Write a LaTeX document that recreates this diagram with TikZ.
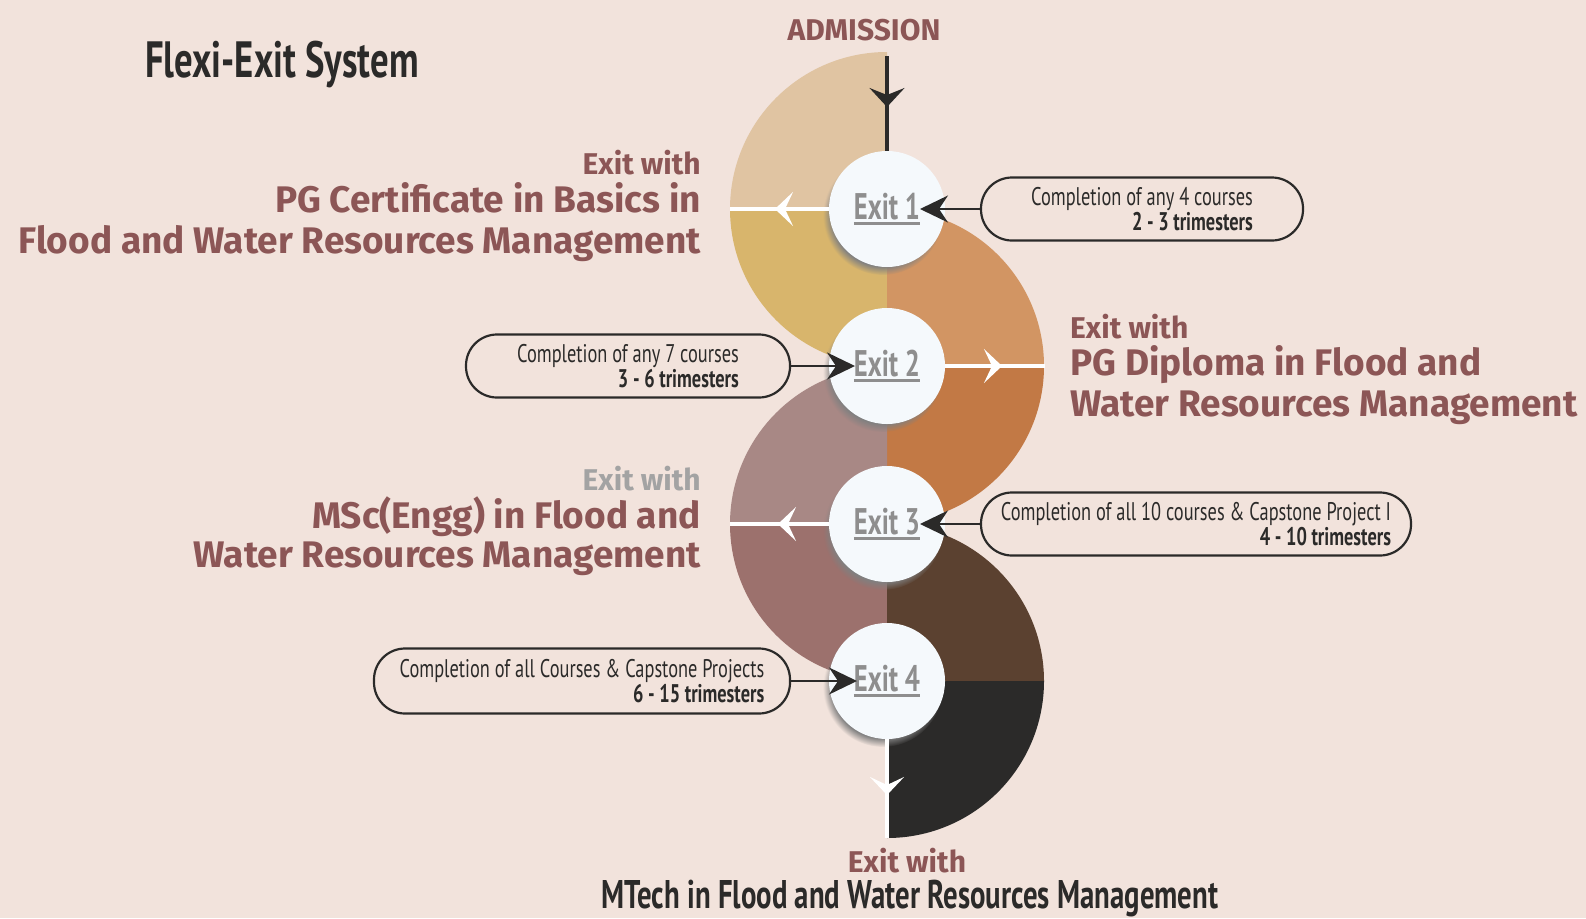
\documentclass[tikz,border=0pt]{standalone}
\usepackage{fontspec}
\setmainfont{Fira Sans}
\newfontfamily\condfont{PT Sans}[FakeStretch=0.72]
\usetikzlibrary{calc,arrows.meta,shadows}

\definecolor{bgpink}{HTML}{F2E3DC}
\definecolor{brownink}{HTML}{8C5656}
\definecolor{darkink}{HTML}{2B2A29}
\definecolor{exitgray}{HTML}{8E8E8E}
\definecolor{palegray}{HTML}{A3A3A3}
\definecolor{circfill}{HTML}{F5F9FC}
\definecolor{sandA}{HTML}{E0C4A2}
\definecolor{sandB}{HTML}{D8B56C}
\definecolor{copperA}{HTML}{D29563}
\definecolor{copperB}{HTML}{C27945}
\definecolor{mauveA}{HTML}{A88885}
\definecolor{mauveB}{HTML}{9C716D}
\definecolor{cocoaA}{HTML}{5B4130}
\definecolor{cocoaB}{HTML}{2B2A29}

\def\exitnode{\node[circle,fill=circfill,minimum size=116pt,inner sep=0pt,text=exitgray,
  font=\condfont\bfseries\fontsize{37}{38}\selectfont,
  circular drop shadow={shadow xshift=-4pt,shadow yshift=-6pt,shadow scale=1.03}]}
\def\callbox{\node[draw=darkink,line width=2.2pt,rounded corners=31pt,minimum height=63pt,
  align=right,inner sep=0pt,text=darkink,font=\condfont\fontsize{25.5}{25.5}\selectfont]}
\newcommand\exitlabel[1]{\setbox0\hbox{#1}\rlap{\rule[-5pt]{\wd0}{2.5pt}}\box0}

\tikzset{
  headbig/.style={font=\bfseries\fontsize{37}{40}\selectfont,text=brownink,inner sep=0pt},
  headsmall/.style={font=\bfseries\fontsize{30}{32}\selectfont,text=brownink,inner sep=0pt},
  whitearrow/.style={draw=white,line width=4pt,-{Stealth[length=18pt,width=34pt,inset=8pt]}},
  whiteline/.style={draw=white,line width=4pt},
  callarrow/.style={draw=darkink,line width=2pt,-{Stealth[length=28pt,width=27pt,inset=9pt]}}
}

\begin{document}
\begin{tikzpicture}[x=1pt,y=-1pt]
\fill[bgpink] (0,0) rectangle (1586,918);
\useasboundingbox (0,0) rectangle (1586,918);

\coordinate (o) at (887,209); % centres below are stacked from (o)
\coordinate (o2) at ($ (o) + (0,157) $);
\coordinate (o3) at ($ (o) + (0,315) $);
\coordinate (o4) at ($ (o) + (0,472) $);

% Half discs
\fill[sandA] (o) -- ++(-157,0) arc[start angle=180,end angle=270,radius=157] -- cycle;
\fill[sandB] (o) -- ++(0,157) arc[start angle=90,end angle=180,radius=157] -- cycle;
\fill[copperA] (o2) -- ++(0,-157) arc[start angle=270,end angle=360,radius=157] -- cycle;
\fill[copperB] (o2) -- ++(157,0) arc[start angle=0,end angle=90,radius=157] -- cycle;
\fill[mauveA] (o3) -- ++(-157,0) arc[start angle=180,end angle=270,radius=157] -- cycle;
\fill[mauveB] (o3) -- ++(0,157) arc[start angle=90,end angle=180,radius=157] -- cycle;
\fill[cocoaA] (o4) -- ++(0,-157) arc[start angle=270,end angle=360,radius=157] -- cycle;
\fill[cocoaB] (o4) -- ++(157,0) arc[start angle=0,end angle=90,radius=157] -- cycle;

% Admission
\node[headsmall,anchor=base] (adm) at (864,40) {ADMISSION};
\coordinate (adm_top) at (887,56);
\coordinate (adm_tip) at (887,107);

% Exits
\exitnode (c1) at (o) {\exitlabel{Exit 1}};
\exitnode (c2) at (o2) {\exitlabel{Exit 2}};
\exitnode (c3) at (o3) {\exitlabel{Exit 3}};
\exitnode (c4) at (o4) {\exitlabel{Exit 4}};

\draw[darkink,line width=4pt] (adm_top) to (c1.north);
\draw[darkink,line width=4pt,-{Stealth[length=19pt,width=35pt,inset=7pt]}] (adm_top) to (adm_tip);

% White exit arrows
\coordinate (w1_end) at ($ (o) - (157,0) $);
\coordinate (w1_tip) at ($ (o) - (112,0) $);
\draw[whiteline] (c1.west) to (w1_end);
\draw[whitearrow] (c1.west) to (w1_tip);
\coordinate (w2_end) at ($ (o2) + (158,0) $);
\coordinate (w2_tip) at ($ (o2) + (115,0) $);
\draw[whiteline] (c2.east) to (w2_end);
\draw[whitearrow] (c2.east) to (w2_tip);
\coordinate (w3_end) at ($ (o3) - (157,0) $);
\coordinate (w3_tip) at ($ (o3) - (109,0) $);
\draw[whiteline] (c3.west) to (w3_end);
\draw[whitearrow] (c3.west) to (w3_tip);
\coordinate (w4_end) at ($ (o4) + (0,157) $);
\coordinate (w4_tip) at ($ (o4) + (0,114) $);
\draw[whiteline] (c4.south) to (w4_end);
\draw[whitearrow] (c4.south) to (w4_tip);

% Conditions
\callbox[minimum width=322pt] (b1) at (1142,209) {Completion of any 4 courses\\\textbf{2 - 3 trimesters}};
\callbox[minimum width=324pt] (b2) at (628,366) {Completion of any 7 courses\\\textbf{3 - 6 trimesters}};
\callbox[minimum width=430pt] (b3) at (1196,524) {Completion of all 10 courses \& Capstone Project I\\\textbf{4 - 10 trimesters}};
\callbox[minimum width=416pt,minimum height=65pt] (b4) at (582,681) {Completion of all Courses \& Capstone Projects\\\textbf{6 - 15 trimesters}};
\coordinate (a1) at (920,209);
\coordinate (a2) at (855,366);
\coordinate (a3) at (920,524);
\coordinate (a4) at (857,681);
\draw[callarrow] (b1.west) to (a1);
\draw[callarrow] (b2.east) to (a2);
\draw[callarrow] (b3.west) to (a3);
\draw[callarrow] (b4.east) to (a4);

% Awards
\node[anchor=base west,inner sep=0pt,text=darkink,font=\condfont\bfseries\fontsize{51}{54}\selectfont] (title) at (145,77) {Flexi-Exit System};

\node[headsmall,anchor=base east] (h1a) at (701,174) {Exit with};
\node[headbig,anchor=base east] (h1b) at (701,212) {PG Certificate in Basics in};
\node[headbig,anchor=base east] (h1c) at (701,253) {Flood and Water Resources Management};

\node[headsmall,anchor=base west] (h2a) at (1070,338) {Exit with};
\node[headbig,anchor=base west] (h2b) at (1070,375) {PG Diploma in Flood and};
\node[headbig,anchor=base west] (h2c) at (1070,416) {Water Resources Management};

\node[headsmall,text=palegray,anchor=base east] (h3a) at (701,490) {Exit with};
\node[headbig,anchor=base east] (h3b) at (701,528) {MSc(Engg) in Flood and};
\node[headbig,anchor=base east] (h3c) at (701,567) {Water Resources Management};

\node[headsmall,anchor=base] (h4a) at (907,872) {Exit with};
\node[anchor=base,inner sep=0pt,text=darkink,font=\condfont\bfseries\fontsize{40}{44}\selectfont] (h4b) at (910,908) {MTech in Flood and Water Resources Management};
\end{tikzpicture}
\end{document}
